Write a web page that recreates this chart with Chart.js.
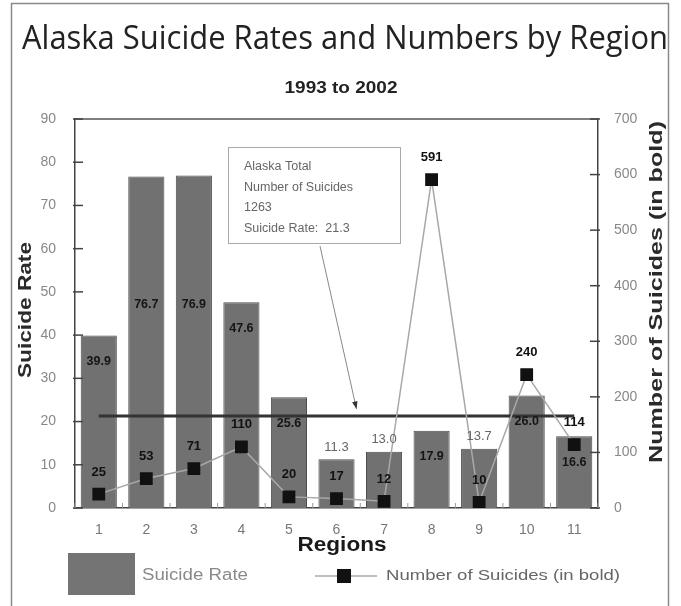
<!DOCTYPE html>
<html>
<head>
<meta charset="utf-8">
<script src="https://cdn.jsdelivr.net/npm/chart.js@4.4.1/dist/chart.umd.min.js"></script>
<style>
    html, body { margin: 0; padding: 0; background: #fff; }
    #wrap { width: 681px; height: 606px; }
</style>
</head>
<body>
<div id="wrap"><canvas id="chart" width="681" height="606"></canvas></div>
<script>
const regions = ['1', '2', '3', '4', '5', '6', '7', '8', '9', '10', '11'];
const suicideRates = [39.9, 76.7, 76.9, 47.6, 25.6, 11.3, 13.0, 17.9, 13.7, 26.0, 16.6];
const suicideCounts = [25, 53, 71, 110, 20, 17, 12, 591, 10, 240, 114];
const alaskaRate = 21.3;
const alaskaTotal = 1263;
const rateTicks = [0, 10, 20, 30, 40, 50, 60, 70, 80, 90];
const countTicks = [0, 100, 200, 300, 400, 500, 600, 700];

const SANS = '"Liberation Sans", Arial, sans-serif';

// draw text squeezed/stretched to a given width
function fitText(ctx, text, x, y, width, font, color, rotate) {
    ctx.save();
    ctx.font = font;
    ctx.fillStyle = color;
    ctx.textAlign = 'center';
    ctx.textBaseline = 'middle';
    const w = ctx.measureText(text).width;
    ctx.translate(x, y);
    if (rotate) ctx.rotate(rotate);
    ctx.scale(width / w, 1);
    ctx.fillText(text, 0, 0);
    ctx.restore();
}

const decorPlugin = {
    id: 'decor',
    afterDraw(chart) {
        const { ctx, chartArea: a, scales } = chart;
        const x = scales.x, y = scales.y, y1 = scales.y1;

        ctx.save();
        // outer frame
        ctx.strokeStyle = '#8a8a8a';
        ctx.lineWidth = 1.5;
        ctx.strokeRect(11.5, 3.5, 657, 640);

        // titles
        fitText(ctx, 'Alaska Suicide Rates and Numbers by Region', 345, 40, 646, '32px "Open Sans"', '#222');
        fitText(ctx, '1993 to 2002', 341, 88, 113, 'bold 17px ' + SANS, '#222');

        // plot frame top
        ctx.strokeStyle = '#555';
        ctx.lineWidth = 1.5;
        ctx.beginPath();
        ctx.moveTo(a.left, a.top);
        ctx.lineTo(a.right, a.top);
        ctx.stroke();

        // inner tick marks
        ctx.lineWidth = 1.5;
        ctx.strokeStyle = '#444';
        rateTicks.forEach(v => {
            const py = y.getPixelForValue(v);
            ctx.beginPath(); ctx.moveTo(a.left - 2, py); ctx.lineTo(a.left + 8, py); ctx.stroke();
        });
        countTicks.forEach(v => {
            const py = y1.getPixelForValue(v);
            ctx.beginPath(); ctx.moveTo(a.right - 8, py); ctx.lineTo(a.right + 2, py); ctx.stroke();
        });
        ctx.strokeStyle = '#999';
        ctx.lineWidth = 1;
        for (let i = 0; i <= regions.length; i++) {
            const px = x.getPixelForValue(i - 0.5);
            ctx.beginPath(); ctx.moveTo(px, a.bottom); ctx.lineTo(px, a.bottom - 5); ctx.stroke();
        }

        // rate labels
        const barMeta = chart.getDatasetMeta(2);
        suicideRates.forEach((v, i) => {
            const bar = barMeta.data[i];
            ctx.textAlign = 'center';
            ctx.textBaseline = 'middle';
            if (v > 15) {
                const ly = y.getPixelForValue(Math.min(v - 6, 47));
                ctx.font = 'bold 12.5px ' + SANS;
                ctx.fillStyle = '#151515';
                ctx.fillText(v.toFixed(1), bar.x, ly);
            } else {
                ctx.font = '13px ' + SANS;
                ctx.fillStyle = '#666';
                ctx.fillText(v.toFixed(1), bar.x, bar.y - 12);
            }
        });

        // count labels
        const lineMeta = chart.getDatasetMeta(0);
        suicideCounts.forEach((v, i) => {
            const pt = lineMeta.data[i];
            ctx.font = 'bold 13px ' + SANS;
            ctx.fillStyle = '#111';
            ctx.textAlign = 'center';
            ctx.textBaseline = 'middle';
            ctx.fillText(String(v), pt.x, pt.y - 22);
        });

        // annotation box
        const bx = a.left + 153, by = a.top + 28, bw = 172, bh = 96;
        ctx.fillStyle = '#fff';
        ctx.fillRect(bx, by, bw, bh);
        ctx.strokeStyle = '#aaa';
        ctx.lineWidth = 1;
        ctx.strokeRect(bx + 0.5, by + 0.5, bw, bh);
        ctx.font = '12.5px ' + SANS;
        ctx.fillStyle = '#666';
        ctx.textAlign = 'left';
        ctx.textBaseline = 'middle';
        ['Alaska Total', 'Number of Suicides', String(alaskaTotal), 'Suicide Rate:  ' + alaskaRate.toFixed(1)]
            .forEach((t, k) => ctx.fillText(t, bx + 16, by + 20 + k * 20.5));

        // arrow to the state rate line
        const tipX = x.getPixelForValue(5.42);
        const tipY = y.getPixelForValue(alaskaRate) - 7;
        const sx = bx + 92, sy = by + bh + 3;
        ctx.strokeStyle = '#888';
        ctx.lineWidth = 1;
        ctx.beginPath(); ctx.moveTo(sx, sy); ctx.lineTo(tipX, tipY); ctx.stroke();
        const ang = Math.atan2(tipY - sy, tipX - sx);
        ctx.fillStyle = '#333';
        ctx.beginPath();
        ctx.moveTo(tipX, tipY);
        ctx.lineTo(tipX - 8 * Math.cos(ang - 0.35), tipY - 8 * Math.sin(ang - 0.35));
        ctx.lineTo(tipX - 8 * Math.cos(ang + 0.35), tipY - 8 * Math.sin(ang + 0.35));
        ctx.closePath();
        ctx.fill();

        // axis titles
        fitText(ctx, 'Suicide Rate', 26, 310, 136, 'bold 19px ' + SANS, '#2a2a2a', -Math.PI / 2);
        fitText(ctx, 'Number of Suicides (in bold)', 657, 292, 342, 'bold 19px ' + SANS, '#2a2a2a', -Math.PI / 2);
        fitText(ctx, 'Regions', 342, 545, 89, 'bold 20px ' + SANS, '#1a1a1a');

        // legend
        ctx.fillStyle = '#747474';
        ctx.fillRect(68, 553, 67, 42);
        fitText(ctx, 'Suicide Rate', 195, 576, 106, '16px ' + SANS, '#8a8a8a');
        ctx.strokeStyle = '#aaa';
        ctx.lineWidth = 1.5;
        ctx.beginPath(); ctx.moveTo(315, 576); ctx.lineTo(377, 576); ctx.stroke();
        ctx.fillStyle = '#111';
        ctx.fillRect(337, 569, 14, 14);
        fitText(ctx, 'Number of Suicides (in bold)', 503, 576, 234, '15px ' + SANS, '#666');

        ctx.restore();
    }
};

const tickFont = { family: SANS, size: 14 };

new Chart(document.getElementById('chart'), {
    data: {
        labels: regions,
        datasets: [
            {
                type: 'line',
                label: 'Number of Suicides (in bold)',
                data: suicideCounts,
                yAxisID: 'y1',
                borderColor: '#a8a8a8',
                borderWidth: 1.5,
                pointStyle: 'rect',
                pointRadius: 8,
                pointBackgroundColor: '#111',
                pointBorderColor: '#111',
                tension: 0,
                order: 0
            },
            {
                type: 'line',
                label: 'Alaska Suicide Rate',
                data: regions.map(() => alaskaRate),
                yAxisID: 'y',
                borderColor: '#333',
                borderWidth: 3,
                pointRadius: 0,
                order: 1
            },
            {
                type: 'bar',
                label: 'Suicide Rate',
                data: suicideRates,
                yAxisID: 'y',
                backgroundColor: '#717171',
                borderColor: '#4d4d4d',
                borderWidth: 1,
                barPercentage: 0.76,
                categoryPercentage: 1,
                order: 2
            }
        ]
    },
    options: {
        responsive: false,
        animation: false,
        layout: { padding: { left: 35, right: 38, top: 119, bottom: 68 } },
        plugins: {
            legend: { display: false },
            tooltip: { enabled: false },
            title: { display: false }
        },
        scales: {
            x: {
                grid: { display: false },
                border: { display: true, color: '#444', width: 1.5 },
                ticks: { color: '#777', font: tickFont, padding: 6 },
                afterFit: s => { s.height = 30; }
            },
            y: {
                position: 'left',
                min: 0,
                max: 90,
                afterBuildTicks: s => { s.ticks = rateTicks.map(v => ({ value: v })); },
                grid: { display: false },
                border: { display: true, color: '#444', width: 1.5 },
                ticks: { color: '#888', font: tickFont, padding: 11 },
                afterFit: s => { s.width = 40; }
            },
            y1: {
                position: 'right',
                min: 0,
                max: 700,
                afterBuildTicks: s => { s.ticks = countTicks.map(v => ({ value: v })); },
                grid: { display: false },
                border: { display: true, color: '#444', width: 1.5 },
                ticks: { color: '#888', font: tickFont, padding: 8 },
                afterFit: s => { s.width = 45; }
            }
        }
    },
    plugins: [decorPlugin]
});
</script>
</body>
</html>
